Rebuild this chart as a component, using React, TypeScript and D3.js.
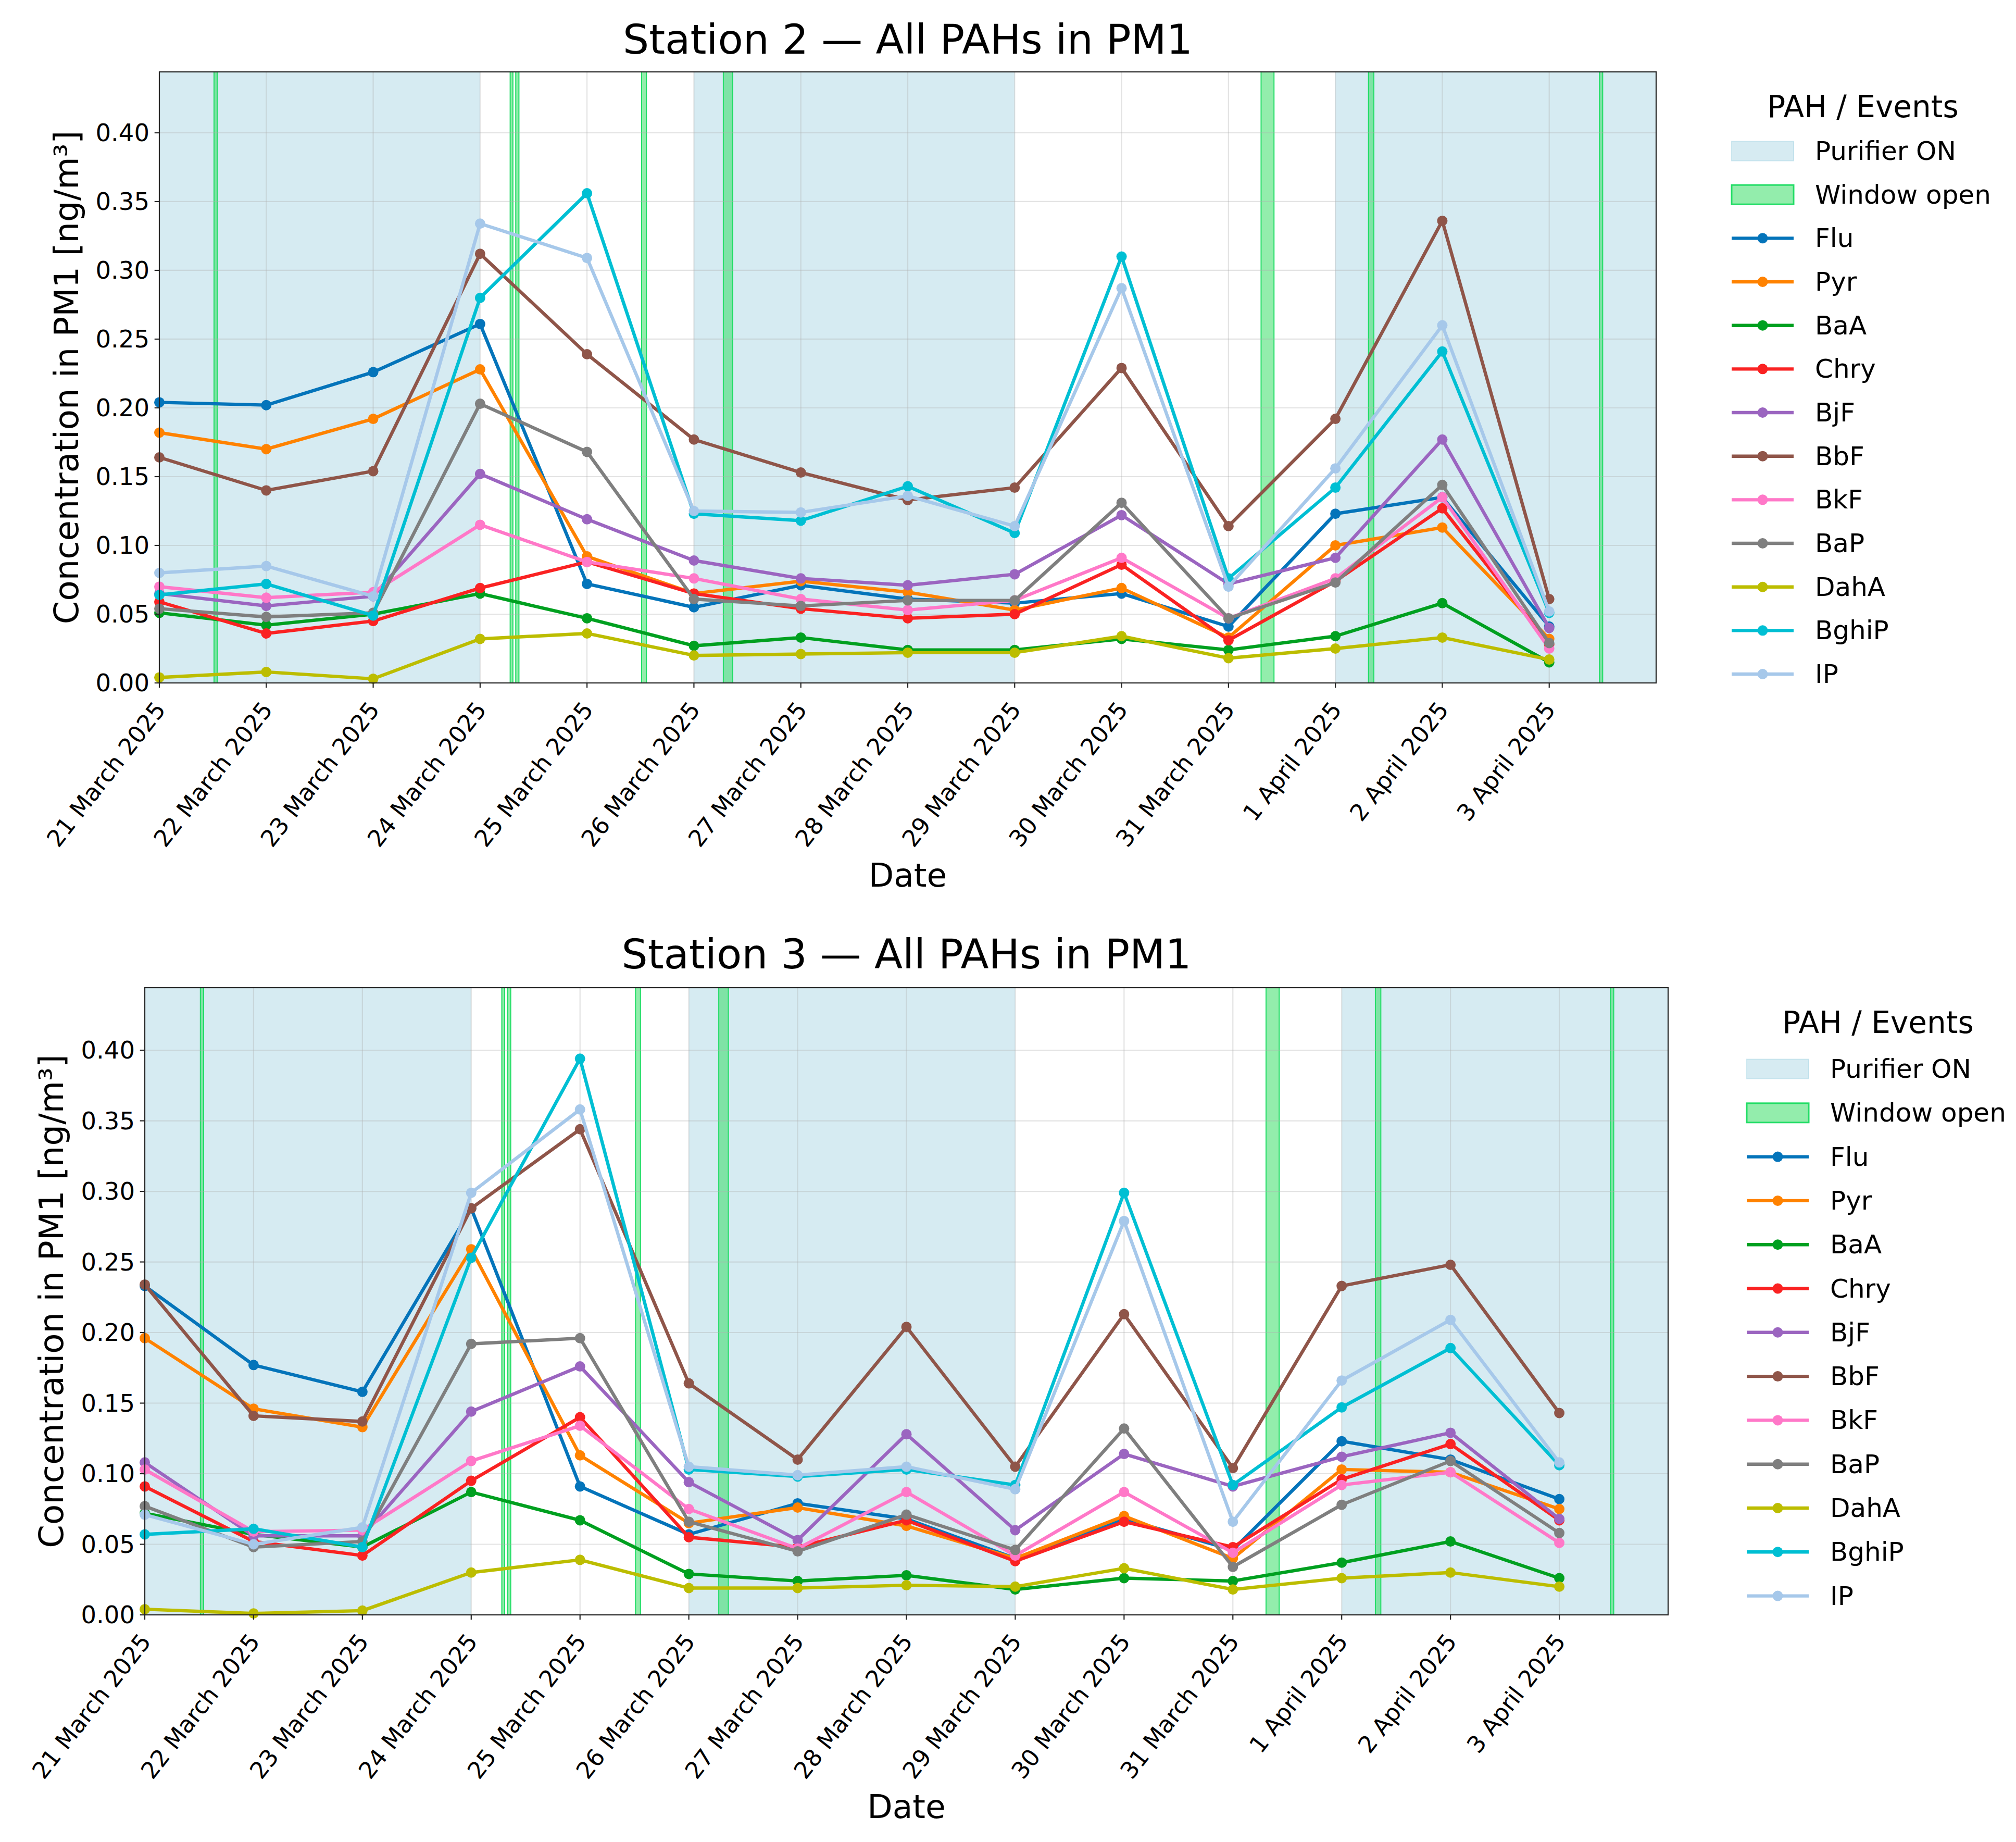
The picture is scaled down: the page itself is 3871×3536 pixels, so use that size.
import React, { useRef, useEffect } from "react";
import * as d3 from "d3";

// sampling days (one sample per day)
const dates = [
    "2025-03-21", "2025-03-22", "2025-03-23", "2025-03-24", "2025-03-25",
    "2025-03-26", "2025-03-27", "2025-03-28", "2025-03-29", "2025-03-30",
    "2025-03-31", "2025-04-01", "2025-04-02", "2025-04-03",
];

const pahNames = ["Flu", "Pyr", "BaA", "Chry", "BjF", "BbF", "BkF", "BaP", "DahA", "BghiP", "IP"];
const pahColors = [
    "#0474ba", "#ff8200", "#00a020", "#fa2222", "#9b65c0", "#8f5549",
    "#ff78c8", "#7f7f7f", "#bcbd00", "#00bfd3", "#a6c8ea",
];

// Station 2 [ng/m3]
const st2Flu = [0.204, 0.202, 0.226, 0.261, 0.072, 0.055, 0.071, 0.061, 0.058, 0.065, 0.041, 0.123, 0.135, 0.041];
const st2Pyr = [0.182, 0.170, 0.192, 0.228, 0.092, 0.065, 0.074, 0.066, 0.053, 0.069, 0.033, 0.100, 0.113, 0.032];
const st2BaA = [0.051, 0.042, 0.050, 0.065, 0.047, 0.027, 0.033, 0.024, 0.024, 0.032, 0.024, 0.034, 0.058, 0.015];
const st2Chry = [0.059, 0.036, 0.045, 0.069, 0.088, 0.065, 0.054, 0.047, 0.050, 0.086, 0.031, 0.074, 0.127, 0.028];
const st2BjF = [0.065, 0.056, 0.063, 0.152, 0.119, 0.089, 0.076, 0.071, 0.079, 0.122, 0.072, 0.091, 0.177, 0.040];
const st2BbF = [0.164, 0.140, 0.154, 0.312, 0.239, 0.177, 0.153, 0.133, 0.142, 0.229, 0.114, 0.192, 0.336, 0.061];
const st2BkF = [0.070, 0.062, 0.066, 0.115, 0.088, 0.076, 0.061, 0.053, 0.060, 0.091, 0.047, 0.076, 0.135, 0.025];
const st2BaP = [0.054, 0.048, 0.051, 0.203, 0.168, 0.061, 0.056, 0.060, 0.060, 0.131, 0.047, 0.073, 0.144, 0.029];
const st2DahA = [0.004, 0.008, 0.003, 0.032, 0.036, 0.020, 0.021, 0.022, 0.022, 0.034, 0.018, 0.025, 0.033, 0.017];
const st2BghiP = [0.064, 0.072, 0.049, 0.280, 0.356, 0.123, 0.118, 0.143, 0.109, 0.310, 0.076, 0.142, 0.241, 0.051];
const st2IP = [0.080, 0.085, 0.063, 0.334, 0.309, 0.125, 0.124, 0.136, 0.114, 0.287, 0.070, 0.156, 0.260, 0.052];

// Station 3 [ng/m3]
const st3Flu = [0.233, 0.177, 0.158, 0.288, 0.091, 0.057, 0.079, 0.068, 0.040, 0.068, 0.046, 0.123, 0.110, 0.082];
const st3Pyr = [0.196, 0.146, 0.133, 0.259, 0.113, 0.065, 0.076, 0.063, 0.040, 0.070, 0.040, 0.103, 0.101, 0.075];
const st3BaA = [0.072, 0.057, 0.048, 0.087, 0.067, 0.029, 0.024, 0.028, 0.018, 0.026, 0.024, 0.037, 0.052, 0.026];
const st3Chry = [0.091, 0.052, 0.042, 0.095, 0.140, 0.055, 0.048, 0.067, 0.038, 0.066, 0.048, 0.096, 0.121, 0.067];
const st3BjF = [0.108, 0.056, 0.056, 0.144, 0.176, 0.094, 0.053, 0.128, 0.060, 0.114, 0.091, 0.112, 0.129, 0.068];
const st3BbF = [0.234, 0.141, 0.137, 0.288, 0.344, 0.164, 0.110, 0.204, 0.105, 0.213, 0.104, 0.233, 0.248, 0.143];
const st3BkF = [0.103, 0.059, 0.060, 0.109, 0.134, 0.075, 0.047, 0.087, 0.042, 0.087, 0.044, 0.092, 0.101, 0.051];
const st3BaP = [0.077, 0.048, 0.052, 0.192, 0.196, 0.066, 0.045, 0.071, 0.046, 0.132, 0.034, 0.078, 0.109, 0.058];
const st3DahA = [0.004, 0.001, 0.003, 0.030, 0.039, 0.019, 0.019, 0.021, 0.020, 0.033, 0.018, 0.026, 0.030, 0.020];
const st3BghiP = [0.057, 0.061, 0.048, 0.253, 0.394, 0.103, 0.098, 0.103, 0.092, 0.299, 0.092, 0.147, 0.189, 0.106];
const st3IP = [0.071, 0.050, 0.062, 0.299, 0.358, 0.105, 0.099, 0.105, 0.089, 0.279, 0.066, 0.166, 0.209, 0.108];

const station2Series = [st2Flu, st2Pyr, st2BaA, st2Chry, st2BjF, st2BbF, st2BkF, st2BaP, st2DahA, st2BghiP, st2IP];
const station3Series = [st3Flu, st3Pyr, st3BaA, st3Chry, st3BjF, st3BbF, st3BkF, st3BaP, st3DahA, st3BghiP, st3IP];

// events
const purifierOn = [
    ["2025-03-21T00:00", "2025-03-24T00:00"],
    ["2025-03-26T00:00", "2025-03-29T00:00"],
    ["2025-04-01T00:00", "2025-04-04T00:00"],
];
const windowOpen = [
    ["2025-03-21T12:16", "2025-03-21T12:59"],
    ["2025-03-24T06:45", "2025-03-24T07:22"],
    ["2025-03-24T08:00", "2025-03-24T08:43"],
    ["2025-03-25T12:15", "2025-03-25T13:20"],
    ["2025-03-26T06:36", "2025-03-26T08:43"],
    ["2025-03-31T07:19", "2025-03-31T10:13"],
    ["2025-04-01T07:26", "2025-04-01T08:38"],
    ["2025-04-03T11:17", "2025-04-03T12:00"],
];

const xDomain = ["2025-03-21T00:00", "2025-04-04T00:00"];
const yTicks = [0, 0.05, 0.1, 0.15, 0.2, 0.25, 0.3, 0.35, 0.4];
const yMax = 0.4443;

const parseDay = d3.timeParse("%Y-%m-%d");
const parseTime = d3.timeParse("%Y-%m-%dT%H:%M");
const fmtDay = d3.timeFormat("%-d %B %Y");

const FONT = "DejaVu Sans, sans-serif";
const PURIFIER_FILL = "#add8e6";
const WINDOW_FILL = "rgb(40,220,90)";
const WINDOW_EDGE = "#22dd66";

const panels = [
    {
        title: "Station 2 — All PAHs in PM1",
        series: station2Series,
        left: 306, right: 3180, top: 138, bottom: 1311,
        titleY: 103, yLabelX: 150, dateY: 1702,
        legendX: 3325, legendRow0: 152, legendStep: 83.67,
    },
    {
        title: "Station 3 — All PAHs in PM1",
        series: station3Series,
        left: 278, right: 3203, top: 1896, bottom: 3100,
        titleY: 1859, yLabelX: 121, dateY: 3490,
        legendX: 3354, legendRow0: 156, legendStep: 84.3,
    },
];

function drawPanel(svg: any, p: any) {
    const x = d3.scaleTime()
        .domain(xDomain.map((d) => parseTime(d) as Date))
        .range([p.left, p.right]);
    const y = d3.scaleLinear().domain([0, yMax]).range([p.bottom, p.top]);
    const days = dates.map((d) => parseDay(d) as Date);
    const g = svg.append("g");

    // purifier spans
    g.selectAll(".pur")
        .data(purifierOn)
        .enter()
        .append("rect")
        .attr("x", (d) => x(parseTime(d[0]) as Date))
        .attr("width", (d) => x(parseTime(d[1]) as Date) - x(parseTime(d[0]) as Date))
        .attr("y", p.top)
        .attr("height", p.bottom - p.top)
        .attr("fill", PURIFIER_FILL)
        .attr("fill-opacity", 0.5);

    // window open spans
    g.selectAll(".win")
        .data(windowOpen)
        .enter()
        .append("rect")
        .attr("x", (d) => x(parseTime(d[0]) as Date))
        .attr("width", (d) => x(parseTime(d[1]) as Date) - x(parseTime(d[0]) as Date))
        .attr("y", p.top)
        .attr("height", p.bottom - p.top)
        .attr("fill", WINDOW_FILL)
        .attr("fill-opacity", 0.5)
        .attr("stroke", WINDOW_EDGE)
        .attr("stroke-width", 2);

    // grid
    g.selectAll(".gy")
        .data(yTicks)
        .enter()
        .append("line")
        .attr("x1", p.left).attr("x2", p.right)
        .attr("y1", (d) => y(d)).attr("y2", (d) => y(d))
        .attr("stroke", "#b0b0b0").attr("stroke-opacity", 0.35).attr("stroke-width", 2.2);
    g.selectAll(".gx")
        .data(days)
        .enter()
        .append("line")
        .attr("y1", p.top).attr("y2", p.bottom)
        .attr("x1", (d) => x(d)).attr("x2", (d) => x(d))
        .attr("stroke", "#b0b0b0").attr("stroke-opacity", 0.35).attr("stroke-width", 2.2);

    // series
    const line = d3.line<number>()
        .x((_, i) => x(days[i]))
        .y((v) => y(v));
    p.series.forEach((vals: number[], k: number) => {
        g.append("path")
            .attr("d", line(vals))
            .attr("fill", "none")
            .attr("stroke", pahColors[k])
            .attr("stroke-width", 6.4)
            .attr("stroke-linejoin", "round");
        g.selectAll(null)
            .data(vals)
            .enter()
            .append("circle")
            .attr("cx", (_, i) => x(days[i]))
            .attr("cy", (v) => y(v))
            .attr("r", 10)
            .attr("fill", pahColors[k]);
    });

    // frame
    g.append("rect")
        .attr("x", p.left).attr("y", p.top)
        .attr("width", p.right - p.left).attr("height", p.bottom - p.top)
        .attr("fill", "none").attr("stroke", "#262626").attr("stroke-width", 2.2);

    // y ticks
    g.selectAll(".ty")
        .data(yTicks)
        .enter()
        .append("line")
        .attr("x1", p.left - 9.3).attr("x2", p.left)
        .attr("y1", (d) => y(d)).attr("y2", (d) => y(d))
        .attr("stroke", "#262626").attr("stroke-width", 2.2);
    g.selectAll(".tyl")
        .data(yTicks)
        .enter()
        .append("text")
        .attr("x", p.left - 19)
        .attr("y", (d) => y(d))
        .attr("text-anchor", "end")
        .attr("dominant-baseline", "central")
        .attr("font-size", 46.5)
        .attr("font-family", FONT)
        .text((d) => d3.format(".2f")(d));

    // x ticks
    g.selectAll(".tx")
        .data(days)
        .enter()
        .append("line")
        .attr("x1", (d) => x(d)).attr("x2", (d) => x(d))
        .attr("y1", p.bottom).attr("y2", p.bottom + 9.3)
        .attr("stroke", "#262626").attr("stroke-width", 2.2);
    g.selectAll(".txl")
        .data(days)
        .enter()
        .append("text")
        .attr("transform", (d) => `translate(${x(d) + 14},${p.bottom + 52}) rotate(-52)`)
        .attr("text-anchor", "end")
        .attr("font-size", 45)
        .attr("font-family", FONT)
        .text((d) => fmtDay(d));

    // titles and labels
    g.append("text")
        .attr("x", (p.left + p.right) / 2)
        .attr("y", p.titleY)
        .attr("text-anchor", "middle")
        .attr("font-size", 79)
        .attr("font-family", FONT)
        .text(p.title);
    g.append("text")
        .attr("x", (p.left + p.right) / 2)
        .attr("y", p.dateY)
        .attr("text-anchor", "middle")
        .attr("font-size", 63)
        .attr("font-family", FONT)
        .text("Date");
    g.append("text")
        .attr("transform", `translate(${p.yLabelX},${(p.top + p.bottom) / 2}) rotate(-90)`)
        .attr("text-anchor", "middle")
        .attr("font-size", 64)
        .attr("font-family", FONT)
        .text("Concentration in PM1 [ng/m³]");

    // legend
    const lg = g.append("g");
    const rowY = (i: number) => p.top + p.legendRow0 + i * p.legendStep;
    const hw = 119;
    lg.append("text")
        .attr("x", p.legendX + 252)
        .attr("y", p.top + 87)
        .attr("text-anchor", "middle")
        .attr("font-size", 58)
        .attr("font-family", FONT)
        .text("PAH / Events");

    lg.append("rect")
        .attr("x", p.legendX).attr("y", rowY(0) - 18.5)
        .attr("width", hw).attr("height", 37)
        .attr("fill", PURIFIER_FILL).attr("fill-opacity", 0.5)
        .attr("stroke", PURIFIER_FILL).attr("stroke-opacity", 0.6).attr("stroke-width", 2);
    lg.append("rect")
        .attr("x", p.legendX).attr("y", rowY(1) - 18.5)
        .attr("width", hw).attr("height", 37)
        .attr("fill", WINDOW_FILL).attr("fill-opacity", 0.5)
        .attr("stroke", WINDOW_EDGE).attr("stroke-width", 3);

    pahNames.forEach((name, k) => {
        const yy = rowY(k + 2);
        lg.append("line")
            .attr("x1", p.legendX).attr("x2", p.legendX + hw)
            .attr("y1", yy).attr("y2", yy)
            .attr("stroke", pahColors[k]).attr("stroke-width", 6.4);
        lg.append("circle")
            .attr("cx", p.legendX + hw / 2).attr("cy", yy)
            .attr("r", 10).attr("fill", pahColors[k]);
    });

    const labels = ["Purifier ON", "Window open", ...pahNames];
    lg.selectAll(".ll")
        .data(labels)
        .enter()
        .append("text")
        .attr("x", p.legendX + 160)
        .attr("y", (_, i) => rowY(i))
        .attr("dominant-baseline", "central")
        .attr("font-size", 50)
        .attr("font-family", FONT)
        .text((d) => d);
}

const App: React.FC = () => {
    const svgRef = useRef<SVGSVGElement | null>(null);

    useEffect(() => {
        if (!svgRef.current) return;
        const svg = d3.select(svgRef.current);
        svg.selectAll("*").remove();
        svg.append("rect").attr("width", 3871).attr("height", 3536).attr("fill", "#ffffff");
        panels.forEach((p) => drawPanel(svg, p));
    }, []);

    return (
        <div>
            <style>{`body { margin: 0; }`}</style>
            <svg ref={svgRef} width={3871} height={3536} style={{ display: "block" }}></svg>
        </div>
    );
};

export default App;
